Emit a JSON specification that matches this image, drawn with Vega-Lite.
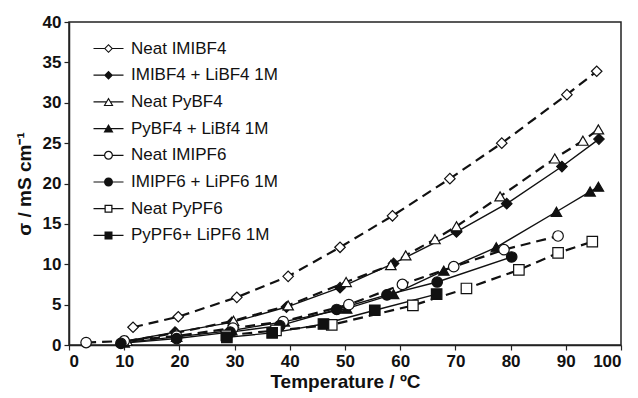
{
  "$schema": "https://vega.github.io/schema/vega-lite/v6.json",
  "width": 552,
  "height": 323,
  "autosize": {"type": "none"},
  "padding": {"left": 69, "top": 22, "right": 17, "bottom": 53},
  "background": "white",
  "config": {
    "font": "Liberation Sans",
    "view": {"stroke": "#222", "strokeWidth": 1.5},
    "axis": {"grid": false, "domainColor": "#222", "domainWidth": 1.5, "tickColor": "#222", "tickSize": 5, "tickWidth": 1.2, "labelFont": "Liberation Sans", "labelFontWeight": "bold", "labelFontSize": 17, "labelColor": "#111", "titleFont": "Liberation Sans", "titleFontWeight": "bold", "titleFontSize": 19, "titleColor": "#111"}
  },
  "data": {"values": [
    {"s": "Neat IMIBF4", "t": 11.6, "v": 2.2},
    {"s": "Neat IMIBF4", "t": 19.8, "v": 3.5},
    {"s": "Neat IMIBF4", "t": 30.4, "v": 5.9},
    {"s": "Neat IMIBF4", "t": 39.7, "v": 8.5},
    {"s": "Neat IMIBF4", "t": 49.1, "v": 12.1},
    {"s": "Neat IMIBF4", "t": 58.6, "v": 16.0},
    {"s": "Neat IMIBF4", "t": 69.0, "v": 20.6},
    {"s": "Neat IMIBF4", "t": 78.4, "v": 25.0},
    {"s": "Neat IMIBF4", "t": 90.2, "v": 31.0},
    {"s": "Neat IMIBF4", "t": 95.6, "v": 33.9},
    {"s": "IMIBF4 + LiBF4 1M", "t": 9.8, "v": 0.4},
    {"s": "IMIBF4 + LiBF4 1M", "t": 19.2, "v": 1.6},
    {"s": "IMIBF4 + LiBF4 1M", "t": 29.5, "v": 2.8},
    {"s": "IMIBF4 + LiBF4 1M", "t": 39.4, "v": 4.7},
    {"s": "IMIBF4 + LiBF4 1M", "t": 49.1, "v": 7.1},
    {"s": "IMIBF4 + LiBF4 1M", "t": 58.8, "v": 10.1},
    {"s": "IMIBF4 + LiBF4 1M", "t": 70.2, "v": 14.0},
    {"s": "IMIBF4 + LiBF4 1M", "t": 79.3, "v": 17.5},
    {"s": "IMIBF4 + LiBF4 1M", "t": 89.3, "v": 22.1},
    {"s": "IMIBF4 + LiBF4 1M", "t": 96.0, "v": 25.5},
    {"s": "Neat PyBF4", "t": 10.5, "v": 0.5},
    {"s": "Neat PyBF4", "t": 19.5, "v": 1.5},
    {"s": "Neat PyBF4", "t": 29.8, "v": 3.0},
    {"s": "Neat PyBF4", "t": 39.7, "v": 4.9},
    {"s": "Neat PyBF4", "t": 50.2, "v": 7.8},
    {"s": "Neat PyBF4", "t": 58.3, "v": 9.9},
    {"s": "Neat PyBF4", "t": 61.0, "v": 11.1},
    {"s": "Neat PyBF4", "t": 66.3, "v": 13.1},
    {"s": "Neat PyBF4", "t": 70.2, "v": 14.7},
    {"s": "Neat PyBF4", "t": 78.1, "v": 18.4},
    {"s": "Neat PyBF4", "t": 88.0, "v": 23.1},
    {"s": "Neat PyBF4", "t": 93.1, "v": 25.3},
    {"s": "Neat PyBF4", "t": 95.9, "v": 26.7},
    {"s": "PyBF4 + LiBf4 1M", "t": 10.0, "v": 0.3},
    {"s": "PyBF4 + LiBf4 1M", "t": 19.5, "v": 1.0},
    {"s": "PyBF4 + LiBf4 1M", "t": 29.5, "v": 1.8},
    {"s": "PyBF4 + LiBf4 1M", "t": 39.0, "v": 2.9},
    {"s": "PyBF4 + LiBf4 1M", "t": 50.3, "v": 4.5},
    {"s": "PyBF4 + LiBf4 1M", "t": 58.8, "v": 6.3},
    {"s": "PyBF4 + LiBf4 1M", "t": 67.9, "v": 9.2},
    {"s": "PyBF4 + LiBf4 1M", "t": 77.4, "v": 12.1},
    {"s": "PyBF4 + LiBf4 1M", "t": 88.3, "v": 16.5},
    {"s": "PyBF4 + LiBf4 1M", "t": 94.4, "v": 19.0},
    {"s": "PyBF4 + LiBf4 1M", "t": 95.9, "v": 19.6},
    {"s": "Neat IMIPF6", "t": 3.1, "v": 0.3},
    {"s": "Neat IMIPF6", "t": 10.0, "v": 0.5},
    {"s": "Neat IMIPF6", "t": 19.5, "v": 1.1},
    {"s": "Neat IMIPF6", "t": 29.7, "v": 2.1},
    {"s": "Neat IMIPF6", "t": 38.8, "v": 2.9},
    {"s": "Neat IMIPF6", "t": 50.7, "v": 5.0},
    {"s": "Neat IMIPF6", "t": 60.4, "v": 7.5},
    {"s": "Neat IMIPF6", "t": 69.7, "v": 9.7},
    {"s": "Neat IMIPF6", "t": 78.8, "v": 11.8},
    {"s": "Neat IMIPF6", "t": 88.6, "v": 13.5},
    {"s": "IMIPF6 + LiPF6 1M", "t": 9.4, "v": 0.2},
    {"s": "IMIPF6 + LiPF6 1M", "t": 19.5, "v": 0.8},
    {"s": "IMIPF6 + LiPF6 1M", "t": 29.2, "v": 1.6},
    {"s": "IMIPF6 + LiPF6 1M", "t": 38.2, "v": 2.4},
    {"s": "IMIPF6 + LiPF6 1M", "t": 48.5, "v": 4.4},
    {"s": "IMIPF6 + LiPF6 1M", "t": 57.6, "v": 6.2},
    {"s": "IMIPF6 + LiPF6 1M", "t": 66.7, "v": 7.8},
    {"s": "IMIPF6 + LiPF6 1M", "t": 80.2, "v": 10.9},
    {"s": "Neat PyPF6", "t": 28.5, "v": 1.2},
    {"s": "Neat PyPF6", "t": 37.5, "v": 1.8},
    {"s": "Neat PyPF6", "t": 47.6, "v": 2.5},
    {"s": "Neat PyPF6", "t": 62.3, "v": 4.9},
    {"s": "Neat PyPF6", "t": 72.0, "v": 7.0},
    {"s": "Neat PyPF6", "t": 81.5, "v": 9.3},
    {"s": "Neat PyPF6", "t": 88.6, "v": 11.4},
    {"s": "Neat PyPF6", "t": 94.8, "v": 12.8},
    {"s": "PyPF6+ LiPF6 1M", "t": 28.6, "v": 0.95},
    {"s": "PyPF6+ LiPF6 1M", "t": 36.8, "v": 1.5},
    {"s": "PyPF6+ LiPF6 1M", "t": 46.1, "v": 2.6},
    {"s": "PyPF6+ LiPF6 1M", "t": 55.4, "v": 4.3},
    {"s": "PyPF6+ LiPF6 1M", "t": 66.6, "v": 6.3}
  ]},
  "encoding": {
    "x": {"field": "t", "type": "quantitative", "scale": {"domain": [0, 100], "nice": false}, "axis": {"values": [0,10,20,30,40,50,60,70,80,90,100], "title": "Temperature / ºC", "titlePadding": 3, "labelPadding": 3}},
    "y": {"field": "v", "type": "quantitative", "scale": {"domain": [0, 40], "nice": false}, "axis": {"values": [0,5,10,15,20,25,30,35,40], "title": "σ / mS cm⁻¹", "titlePadding": 8, "labelPadding": 3}}
  },
  "layer": [
    {
      "transform": [{"filter": {"field": "s", "oneOf": ["Neat IMIBF4", "Neat PyBF4", "Neat IMIPF6", "Neat PyPF6"]}}],
      "mark": {"type": "line", "color": "#111", "strokeWidth": 2.2, "strokeDash": [10, 6]},
      "encoding": {"detail": {"field": "s"}, "order": {"field": "t"}}
    },
    {
      "transform": [{"filter": {"field": "s", "oneOf": ["IMIBF4 + LiBF4 1M", "PyBF4 + LiBf4 1M", "IMIPF6 + LiPF6 1M", "PyPF6+ LiPF6 1M"]}}],
      "mark": {"type": "line", "color": "#111", "strokeWidth": 1.4},
      "encoding": {"detail": {"field": "s"}, "order": {"field": "t"}}
    },
    {
      "mark": {"type": "point", "filled": true, "stroke": "#111", "strokeWidth": 1.2, "opacity": 1, "size": 110},
      "encoding": {
        "shape": {"condition": [
          {"test": "indexof(datum.s, 'IMIBF4') >= 0", "value": "diamond"},
          {"test": "indexof(datum.s, 'PyBF4') >= 0", "value": "triangle-up"},
          {"test": "indexof(datum.s, 'IMIPF6') >= 0", "value": "circle"}
        ], "value": "square"},
        "fill": {"condition": {"test": "indexof(datum.s, 'Neat') === 0", "value": "white"}, "value": "#111"}
      }
    },
    {
      "transform": [{"filter": "false"}],
      "mark": {"type": "point", "filled": true, "color": "#111", "strokeWidth": 0, "opacity": 1, "size": 100},
      "encoding": {
        "shape": {"field": "s", "type": "nominal", "scale": {
          "domain": ["Neat IMIBF4", "IMIBF4 + LiBF4 1M", "Neat PyBF4", "PyBF4 + LiBf4 1M", "Neat IMIPF6", "IMIPF6 + LiPF6 1M", "Neat PyPF6", "PyPF6+ LiPF6 1M"],
          "range": [
            "M-3,-0.12H-0.85V0.12H-3Z M0.85,-0.12H3V0.12H0.85Z M0,-0.9L0.9,0L0,0.9L-0.9,0Z M0,-0.6L-0.6,0L0,0.6L0.6,0Z",
            "M-3,-0.12H3V0.12H-3Z M0,-0.9L0.9,0L0,0.9L-0.9,0Z",
            "M-3,-0.12H-0.45V0.12H-3Z M0.45,-0.12H3V0.12H0.45Z M0,-0.9L1,0.8L-1,0.8Z M0,-0.45L-0.62,0.6L0.62,0.6Z",
            "M-3,-0.12H3V0.12H-3Z M0,-0.9L1,0.8L-1,0.8Z",
            "M-3,-0.12H-0.88V0.12H-3Z M0.88,-0.12H3V0.12H0.88Z M0.9,0A0.9,0.9 0 1,1 -0.9,0A0.9,0.9 0 1,1 0.9,0Z M0.65,0A0.65,0.65 0 1,0 -0.65,0A0.65,0.65 0 1,0 0.65,0Z",
            "M-3,-0.12H3V0.12H-3Z M0.9,0A0.9,0.9 0 1,1 -0.9,0A0.9,0.9 0 1,1 0.9,0Z",
            "M-3,-0.12H-0.8V0.12H-3Z M0.8,-0.12H3V0.12H0.8Z M-0.8,-0.8H0.8V0.8H-0.8Z M-0.55,-0.55V0.55H0.55V-0.55Z",
            "M-3,-0.12H3V0.12H-3Z M-0.8,-0.8H0.8V0.8H-0.8Z"
          ]},
          "legend": {"title": null, "orient": "none", "legendX": 31, "legendY": 18, "padding": 0, "labelFontSize": 17, "labelFont": "Liberation Sans", "labelColor": "#111", "rowPadding": 8.7, "symbolSize": 100, "labelOffset": 14, "symbolStrokeWidth": 0}}
      }
    }
  ]
}
